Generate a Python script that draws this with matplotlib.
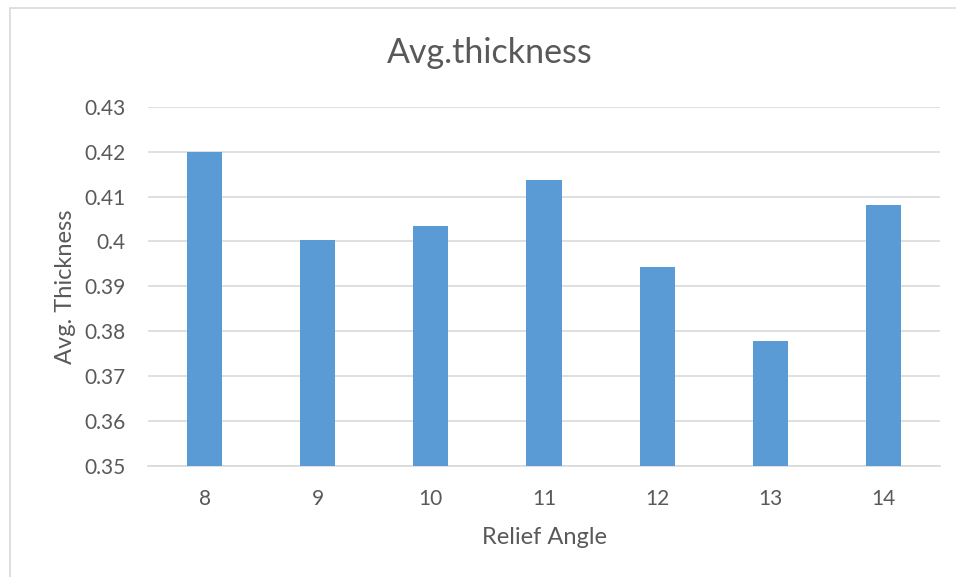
import matplotlib
matplotlib.use("Agg")
import matplotlib.pyplot as plt
from matplotlib.patches import Rectangle

categories = ["8", "9", "10", "11", "12", "13", "14"]
values = [0.4200, 0.4004, 0.4034, 0.4137, 0.3942, 0.3778, 0.4081]
yticks = [0.35, 0.36, 0.37, 0.38, 0.39, 0.40, 0.41, 0.42, 0.43]
ytick_labels = ["0.35", "0.36", "0.37", "0.38", "0.39", "0.4", "0.41", "0.42", "0.43"]

plt.rcParams['font.family'] = ['Lato', 'DejaVu Sans']
W, H = 956, 577
fig = plt.figure(figsize=(W / 100, H / 100), dpi=100)
fig.patch.set_facecolor("white")

# chart border
fig.patches.append(Rectangle((10 / W, -0.01), 1.0, 1 - 8 / H + 0.01, transform=fig.transFigure,
                             fill=False, edgecolor="#D9D9D9", linewidth=1.2))

left, right, top, bottom = 148, 940, 107, 465.5
ax = fig.add_axes([left / W, 1 - bottom / H, (right - left) / W, (bottom - top) / H])
x = list(range(len(categories)))
ax.bar(x, [v - 0.35 for v in values], bottom=0.35, width=0.31, color="#5B9BD5", zorder=3)
ax.set_xlim(-0.5, len(categories) - 0.5)
ax.set_ylim(0.35, 0.43)
ax.set_yticks(yticks)
ax.set_yticklabels(ytick_labels)
ax.set_xticks(x)
ax.set_xticklabels(categories)
ax.grid(axis="y", color="#D9D9D9", linewidth=1.2, zorder=0)
for s in ["top", "right", "left"]:
    ax.spines[s].set_visible(False)
ax.spines["bottom"].set_color("#D9D9D9")
ax.spines["bottom"].set_linewidth(1.2)
ax.tick_params(axis="both", length=0, labelsize=15, labelcolor="#595959")
ax.tick_params(axis="y", pad=16)
ax.tick_params(axis="x", pad=17)
ax.set_xlabel("Relief Angle", fontsize=17, color="#595959", labelpad=13)
ax.set_ylabel("Avg. Thickness", fontsize=17, color="#595959", labelpad=6)
fig.text(490 / W, 1 - 53 / H, "Avg.thickness", fontsize=24.5, color="#595959",
         ha="center", va="center")

fig.savefig("out.png", dpi=100)
